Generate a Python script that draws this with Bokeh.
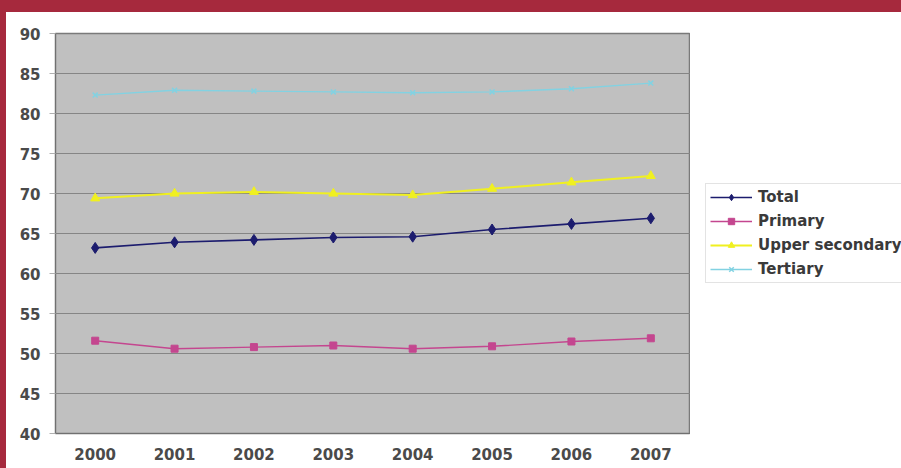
from bokeh.plotting import figure
from bokeh.models import (Div, Legend, LegendItem, FactorRange, Range1d,
                          SingleIntervalTicker, ColumnDataSource)
from bokeh.layouts import column, row
from bokeh.embed import file_html
from bokeh.resources import INLINE

years = ["2000", "2001", "2002", "2003", "2004", "2005", "2006", "2007"]
total = [63.2, 63.9, 64.2, 64.5, 64.6, 65.5, 66.2, 66.9]
primary = [51.6, 50.6, 50.8, 51.0, 50.6, 50.9, 51.5, 51.9]
upper_secondary = [69.4, 70.0, 70.2, 70.0, 69.8, 70.6, 71.4, 72.2]
tertiary = [82.3, 82.9, 82.8, 82.7, 82.6, 82.7, 83.1, 83.8]
series_names = ["Total", "Primary", "Upper secondary", "Tertiary"]

RED = "#a6293d"
FONT = "DejaVu Sans"

p = figure(x_range=FactorRange(*years, range_padding=0), y_range=Range1d(40, 90),
           width=684, height=456, output_backend="svg", toolbar_location=None,
           min_border_left=49, min_border_top=21, min_border_right=0,
           min_border_bottom=35, margin=0)
p.background_fill_color = "#c0c0c0"
p.border_fill_color = "white"
p.outline_line_color = "#7a7a7a"
p.outline_line_width = 1.5

p.xgrid.grid_line_color = None
p.ygrid.grid_line_color = "#858585"
p.ygrid.grid_line_width = 1

p.yaxis.ticker = SingleIntervalTicker(interval=5)
p.yaxis.minor_tick_line_color = None
p.yaxis.major_tick_out = 6
p.yaxis.major_tick_in = 0
p.yaxis.major_tick_line_color = "#b0b0b0"
p.yaxis.axis_line_color = "#707070"
p.yaxis.major_label_standoff = 9

p.xaxis.major_tick_line_color = None
p.xaxis.axis_line_color = "#707070"
p.xaxis.major_label_standoff = 8

for ax in (p.xaxis[0], p.yaxis[0]):
    ax.major_label_text_font = FONT
    ax.major_label_text_font_style = "bold"
    ax.major_label_text_font_size = "15px"
    ax.major_label_text_color = "#4a4a4a"

src = ColumnDataSource(dict(year=years, total=total, primary=primary,
                            upper=upper_secondary, tertiary=tertiary))

# legend lives in its own small figure to the right of the chart
lg = figure(width=211, height=456, x_range=Range1d(0, 1), y_range=Range1d(0, 1),
            output_backend="svg", toolbar_location=None, margin=0,
            min_border_left=0, min_border_right=0, min_border_top=0, min_border_bottom=0)
lg.axis.visible = False
lg.grid.visible = False
lg.outline_line_color = None
lg.background_fill_color = "white"
lg.border_fill_color = "white"

items = []
specs = [
    ("total", "#1c1c6e", "diamond", 11, 1.6),
    ("primary", "#c4468f", "square", 7, 1.4),
    ("upper", "#f0f020", "triangle", 9, 2.0),
    ("tertiary", "#82d2e2", "x", 7, 1.4),
]
for name, (col, color, marker, size, lw) in zip(series_names, specs):
    p.line("year", col, source=src, line_color=color, line_width=lw)
    p.scatter("year", col, source=src, marker=marker, size=size,
              fill_color=color, line_color=color, line_width=1.5 if marker == "x" else 1)
    # proxy glyphs placed outside the visible range, used only for the legend keys
    dl = lg.line(x=[5, 6], y=[5, 5], line_color=color, line_width=lw)
    ds = lg.scatter(x=[5], y=[5], marker=marker, size=size, fill_color=color,
                    line_color=color, line_width=1.5 if marker == "x" else 1)
    items.append(LegendItem(label=name, renderers=[dl, ds]))

legend = Legend(items=items, location=(15, 150))
legend.label_text_font = FONT
legend.label_text_font_style = "bold"
legend.label_text_font_size = "15px"
legend.label_text_color = "#3a3a3a"
legend.label_height = 16
legend.glyph_height = 16
legend.glyph_width = 42
legend.label_standoff = 6
legend.spacing = 6
legend.padding = 4
legend.border_line_color = "#c8c8c8"
legend.background_fill_color = "white"
legend.background_fill_alpha = 1
lg.add_layout(legend, "center")

top_band = Div(width=901, height=12, margin=0, styles={"background-color": RED})
left_band = Div(width=6, height=456, margin=0, styles={"background-color": RED})
layout = column(top_band, row(left_band, p, lg, spacing=0, margin=0), spacing=0, margin=0)

open("out.html", "w").write(file_html(layout, INLINE))
